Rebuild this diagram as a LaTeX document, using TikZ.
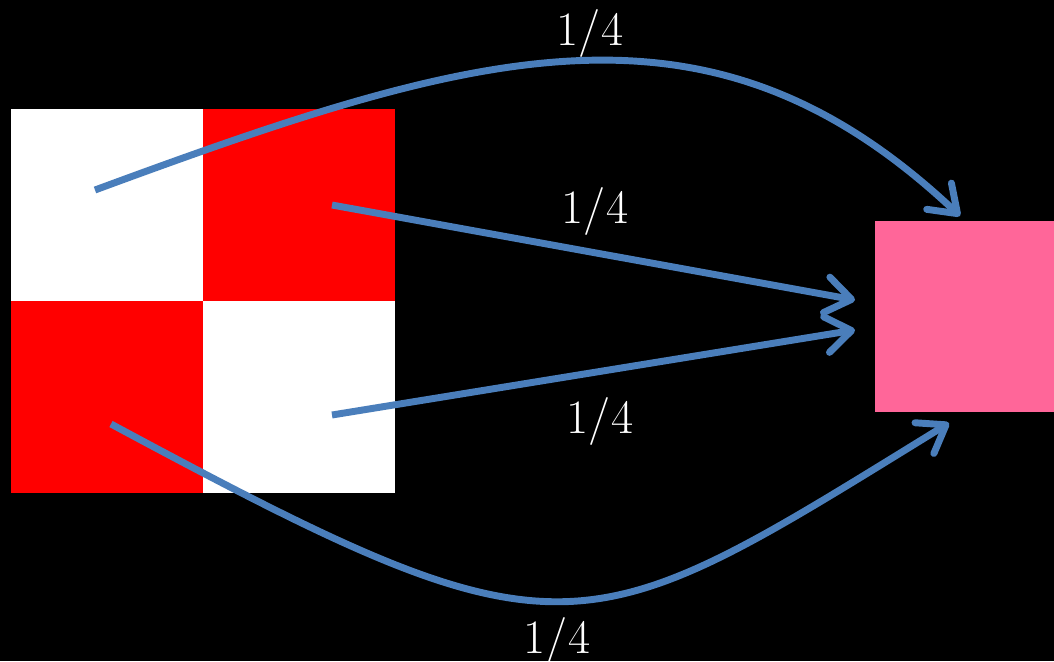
\documentclass[tikz,border=0pt]{standalone}
\usepackage{tikz}
\usetikzlibrary{arrows.meta,positioning}

\definecolor{flowblue}{RGB}{74,126,187}
\definecolor{mixpink}{RGB}{255,102,153}

\begin{document}
\begin{tikzpicture}[
  x=0.75pt, y=-0.75pt,
  cell/.style={minimum size=144pt, inner sep=0pt, outer sep=0pt, draw=none},
  share/.style={text=white, font=\fontsize{36}{40}\selectfont, inner sep=0pt},
  flow/.style={draw=flowblue, line width=5.2pt,
               -{Straight Barb[length=19pt, width=27pt, round]}}
]
\fill[black] (0,0) rectangle (1054,661);
\useasboundingbox (0,0) rectangle (1054,661);

% checkerboard
\node[cell, fill=white, anchor=north west] (wtl) at (11,109) {};
\node[cell, fill=red, right=0pt of wtl] (rtr) {};
\node[cell, fill=red, below=0pt of wtl] (rbl) {};
\node[cell, fill=white, right=0pt of rbl] (wbr) {};

% averaged colour
\node[draw=none, fill=mixpink, inner sep=0pt, minimum width=134.25pt,
      minimum height=143.25pt, anchor=north west] (mix) at (875,221) {};

% start and end points
\coordinate (s1) at (95,190);
\coordinate (s2) at (332,205);
\coordinate (s3) at (332,415);
\coordinate (s4) at (111,424);
\coordinate (e1) at (960,216);
\coordinate (e2) at (855,300);
\coordinate (e3) at (855,330);
\coordinate (e4) at (949,423);

\draw[flow] (s1) .. controls (480,48) and (710,-20) .. (e1);
\draw[flow] (s2) -- (e2);
\draw[flow] (s3) -- (e3);
\draw[flow] (s4) .. controls (570,671) and (580,650) .. (e4);

\node[share] (w1) at (590,33) {1/4};
\node[share] (w2) at (595,211) {1/4};
\node[share] (w3) at (600,421) {1/4};
\node[share] (w4) at (557,641) {1/4};
\end{tikzpicture}
\end{document}
